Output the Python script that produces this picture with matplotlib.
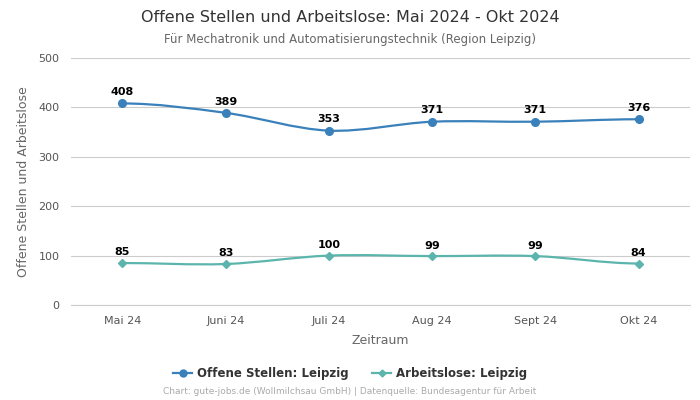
import numpy as np
import matplotlib.pyplot as plt
from matplotlib.path import Path
from matplotlib.patches import PathPatch

# DATEN
monate = ['Mai 24', 'Juni 24', 'Juli 24', 'Aug 24', 'Sept 24', 'Okt 24']
offene_stellen = [408, 389, 353, 371, 371, 376]
arbeitslose = [85, 83, 100, 99, 99, 84]

blau = '#3a80ba'
gruen = '#5cb5ad'

# glatte Kurve durch die Punkte (Bezier, Catmull-Rom Kontrollpunkte)
def kurve(ax, y, farbe):
    x = np.arange(len(y), dtype=float)
    y = np.asarray(y, dtype=float)
    n = len(y)
    steig = np.zeros(n)
    for i in range(1, n - 1):
        steig[i] = (y[i + 1] - y[i - 1]) / 2.0
    verts = [(x[0], y[0])]
    codes = [Path.MOVETO]
    for i in range(n - 1):
        c1 = (x[i] + 1 / 3, y[i] + steig[i] / 3)
        c2 = (x[i + 1] - 1 / 3, y[i + 1] - steig[i + 1] / 3)
        if i == 0:
            c1 = (x[i] + 1 / 3, y[i])
        if i == n - 2:
            c2 = (x[i + 1] - 1 / 3, y[i + 1])
        verts += [c1, c2, (x[i + 1], y[i + 1])]
        codes += [Path.CURVE4, Path.CURVE4, Path.CURVE4]
    ax.add_patch(PathPatch(Path(verts, codes), facecolor='none', edgecolor=farbe, lw=1.6, zorder=3))

fig = plt.figure(figsize=(7, 4), dpi=100)
ax = fig.add_axes([0.101, 0.2375, 0.885, 0.6175])

kurve(ax, offene_stellen, blau)
kurve(ax, arbeitslose, gruen)
x = np.arange(len(monate))
ax.plot(x, offene_stellen, 'o', color=blau, markersize=5.5, zorder=4)
ax.plot(x, arbeitslose, 'D', color=gruen, markersize=3.6, zorder=4)

for i in range(len(monate)):
    ax.annotate(str(offene_stellen[i]), (x[i], offene_stellen[i]), xytext=(0, 4.5),
                textcoords='offset points', ha='center', va='bottom', fontsize=8, fontweight='bold')
    ax.annotate(str(arbeitslose[i]), (x[i], arbeitslose[i]), xytext=(0, 4),
                textcoords='offset points', ha='center', va='bottom', fontsize=8, fontweight='bold')

ax.set_xlim(-0.5, len(monate) - 0.5)
ax.set_ylim(0, 500)
ax.set_yticks([0, 100, 200, 300, 400, 500])
ax.set_xticks(x)
ax.set_xticklabels(monate)
ax.tick_params(axis='both', length=0, labelsize=8, labelcolor='#555555', pad=8)
ax.grid(axis='y', color='#cccccc', lw=0.8)
ax.axhline(0, color='#cccccc', lw=0.8, clip_on=False, zorder=1)
ax.set_axisbelow(True)
for s in ax.spines.values():
    s.set_visible(False)

ax.set_xlabel('Zeitraum', fontsize=9, color='#666666', labelpad=6)
ax.set_ylabel('Offene Stellen und Arbeitslose', fontsize=9, color='#666666', labelpad=6)

fig.text(0.5, 0.957, 'Offene Stellen und Arbeitslose: Mai 2024 - Okt 2024', ha='center', va='center',
         fontsize=11.5, color='#333333')
fig.text(0.5, 0.902, 'Für Mechatronik und Automatisierungstechnik (Region Leipzig)', ha='center', va='center',
         fontsize=8.5, color='#666666')

h1, = ax.plot([], [], '-o', color=blau, markersize=5, lw=1.6)
h2, = ax.plot([], [], '-D', color=gruen, markersize=3.5, lw=1.6)
leg = fig.legend([h1, h2], ['Offene Stellen: Leipzig', 'Arbeitslose: Leipzig'], loc='center',
                 bbox_to_anchor=(0.5, 0.067), ncol=2, frameon=False, fontsize=8.5,
                 handlelength=1.6, columnspacing=2.0, handletextpad=0.4)
for t in leg.get_texts():
    t.set_fontweight('bold')
    t.set_color('#333333')

fig.text(0.5, 0.02, 'Chart: gute-jobs.de (Wollmilchsau GmbH) | Datenquelle: Bundesagentur für Arbeit',
         ha='center', va='center', fontsize=6.5, color='#aaaaaa')

plt.savefig('out.png')
plt.close()
